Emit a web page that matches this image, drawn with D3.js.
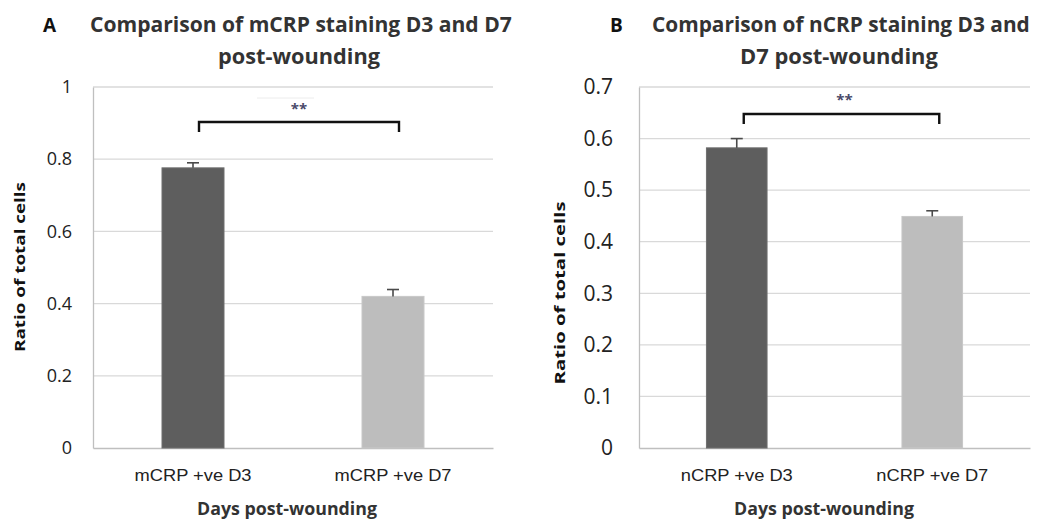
<!DOCTYPE html>
<html>
<head>
<meta charset="utf-8">
<script src="https://cdn.jsdelivr.net/npm/d3@7"></script>
<style>
  body { margin: 0; background: #fff; }
  svg { display: block; font-family: "Open Sans", "Noto Sans", sans-serif; }
</style>
</head>
<body>
<svg id="chart" width="1049" height="526"></svg>
<script>
// data
const categoriesA = ["mCRP +ve D3", "mCRP +ve D7"];
const valuesA = [0.776, 0.42];
const errorsA = [0.014, 0.019];
const ticksA = [0, 0.2, 0.4, 0.6, 0.8, 1];

const categoriesB = ["nCRP +ve D3", "nCRP +ve D7"];
const valuesB = [0.582, 0.449];
const errorsB = [0.018, 0.011];
const ticksB = [0, 0.1, 0.2, 0.3, 0.4, 0.5, 0.6, 0.7];

const barColors = ["#5e5e5e", "#bdbdbd"];

const svg = d3.select("#chart");

// squeeze a text horizontally to a given width, keeping its left edge
function fitWidth(sel, x, y, w) {
  const natural = sel.node().getComputedTextLength();
  const k = w / natural;
  sel.attr("x", 0).attr("y", 0)
    .attr("transform", `translate(${x},${y}) scale(${k},1)`);
}

// one chart panel
function panel(cfg) {
  const g = svg.append("g");
  const x = d3.scaleBand()
    .domain(cfg.categories)
    .range([cfg.left, cfg.right])
    .paddingInner(cfg.pad)
    .paddingOuter(cfg.pad / 2);
  const y = d3.scaleLinear()
    .domain([0, cfg.ticks[cfg.ticks.length - 1]])
    .range([448, 87]);

  // gridlines
  g.selectAll(".grid")
    .data(cfg.ticks.filter(t => t > 0))
    .enter().append("line")
    .attr("x1", cfg.left).attr("x2", cfg.right)
    .attr("y1", d => y(d)).attr("y2", d => y(d))
    .attr("stroke", "#d9d9d9").attr("stroke-width", 1.3);

  // y axis
  const yAxis = d3.axisLeft(y).tickValues(cfg.ticks).tickSize(0)
    .tickPadding(cfg.tickPad).tickFormat(d => d3.format("")(d));
  const ya = g.append("g").attr("transform", `translate(${cfg.left},0)`).call(yAxis);
  ya.select(".domain").attr("stroke", "#bfbfbf").attr("stroke-width", 1.3);
  ya.selectAll("text")
    .attr("font-size", cfg.tickSize)
    .attr("fill", "#222")
    .attr("font-family", "'Open Sans', sans-serif");

  // x axis
  const xAxis = d3.axisBottom(x).tickSize(0).tickPadding(22);
  const xa = g.append("g").attr("transform", `translate(0,${y(0)})`).call(xAxis);
  xa.select(".domain").attr("stroke", "#bfbfbf").attr("stroke-width", 1.5);
  xa.selectAll("text")
    .attr("font-size", 16)
    .attr("fill", "#222")
    .attr("textLength", cfg.xLabelWidth)
    .attr("lengthAdjust", "spacingAndGlyphs");

  // bars
  g.selectAll(".bar")
    .data(cfg.values)
    .enter().append("rect")
    .attr("x", (d, i) => x(cfg.categories[i]))
    .attr("width", x.bandwidth())
    .attr("y", d => y(d))
    .attr("height", d => y(0) - y(d))
    .attr("fill", (d, i) => barColors[i])
    .attr("stroke", (d, i) => i === 0 ? "#6e6e6e" : "#c8c8c8")
    .attr("stroke-width", 1);

  // error bars (upper only)
  cfg.values.forEach((v, i) => {
    const cx = x(cfg.categories[i]) + x.bandwidth() / 2;
    g.append("line")
      .attr("x1", cx).attr("x2", cx)
      .attr("y1", y(v)).attr("y2", y(v + cfg.errors[i]))
      .attr("stroke", "#4a4a4a").attr("stroke-width", 1.6);
    g.append("line")
      .attr("x1", cx - 6).attr("x2", cx + 6)
      .attr("y1", y(v + cfg.errors[i])).attr("y2", y(v + cfg.errors[i]))
      .attr("stroke", "#4a4a4a").attr("stroke-width", 1.6);
  });

  // significance bracket
  const bx1 = x(cfg.categories[0]) + x.bandwidth() / 2 + cfg.bracketShift;
  const bx2 = x(cfg.categories[1]) + x.bandwidth() / 2 + cfg.bracketShift;
  g.append("path")
    .attr("d", `M${bx1},${cfg.bracketY + 10}V${cfg.bracketY}H${bx2}V${cfg.bracketY + 10}`)
    .attr("fill", "none").attr("stroke", "#111").attr("stroke-width", 2.4);
  const sx = (bx1 + bx2) / 2 + cfg.starShift;
  if (cfg.faintLine) {
    g.append("line")
      .attr("x1", sx - 42).attr("x2", sx + 15)
      .attr("y1", cfg.bracketY - 24).attr("y2", cfg.bracketY - 24)
      .attr("stroke", "#ececec").attr("stroke-width", 1);
  }
  g.append("text")
    .attr("x", sx)
    .attr("y", cfg.bracketY - cfg.starGap)
    .attr("text-anchor", "middle")
    .attr("font-size", 15).attr("font-weight", "bold")
    .attr("fill", "#4a4a6a")
    .text("**");

  // y title
  g.append("text")
    .attr("transform", `translate(${cfg.yTitleX},${cfg.yTitleY}) rotate(-90)`)
    .attr("text-anchor", "middle")
    .attr("font-size", 15).attr("font-weight", "bold")
    .attr("fill", "#111")
    .attr("textLength", cfg.yTitleLen)
    .attr("lengthAdjust", "spacingAndGlyphs")
    .text("Ratio of total cells");

  // x title
  g.append("text")
    .attr("x", cfg.xTitleX).attr("y", 515)
    .attr("text-anchor", "middle")
    .attr("font-size", 17).attr("font-weight", "bold")
    .attr("fill", "#333")
    .attr("textLength", 180)
    .attr("lengthAdjust", "spacingAndGlyphs")
    .text("Days post-wounding");

  // panel letter and title
  g.append("text")
    .attr("x", cfg.letterX).attr("y", 32)
    .attr("font-size", 19).attr("font-weight", "bold")
    .attr("fill", "#111")
    .text(cfg.letter);
  cfg.title.forEach((t, i) => {
    const tt = g.append("text")
      .attr("font-size", 22).attr("font-weight", "bold")
      .attr("fill", "#333")
      .text(t);
    fitWidth(tt, cfg.titleX[i], 32 + i * 32, cfg.titleLen[i]);
  });
}

panel({
  categories: categoriesA, values: valuesA, errors: errorsA, ticks: ticksA,
  left: 93, right: 493, pad: 0.69, tickPad: 21, tickSize: 18, xLabelWidth: 117,
  bracketY: 122, bracketShift: 6, starShift: 0, starGap: 8, faintLine: true,
  yTitleX: 25, yTitleY: 267, yTitleLen: 170, xTitleX: 287,
  letter: "A", letterX: 43,
  title: ["Comparison of mCRP staining D3 and D7", "post-wounding"],
  titleX: [90, 218], titleLen: [422, 162]
});

panel({
  categories: categoriesB, values: valuesB, errors: errorsB, ticks: ticksB,
  left: 639, right: 1030, pad: 0.69, tickPad: 26, tickSize: 21, xLabelWidth: 112,
  bracketY: 114, bracketShift: 7, starShift: 3, starGap: 9, faintLine: false,
  yTitleX: 565, yTitleY: 293, yTitleLen: 183, xTitleX: 824,
  letter: "B", letterX: 610,
  title: ["Comparison of nCRP staining D3 and", "D7 post-wounding"],
  titleX: [652, 740], titleLen: [378, 198]
});
</script>
</body>
</html>
